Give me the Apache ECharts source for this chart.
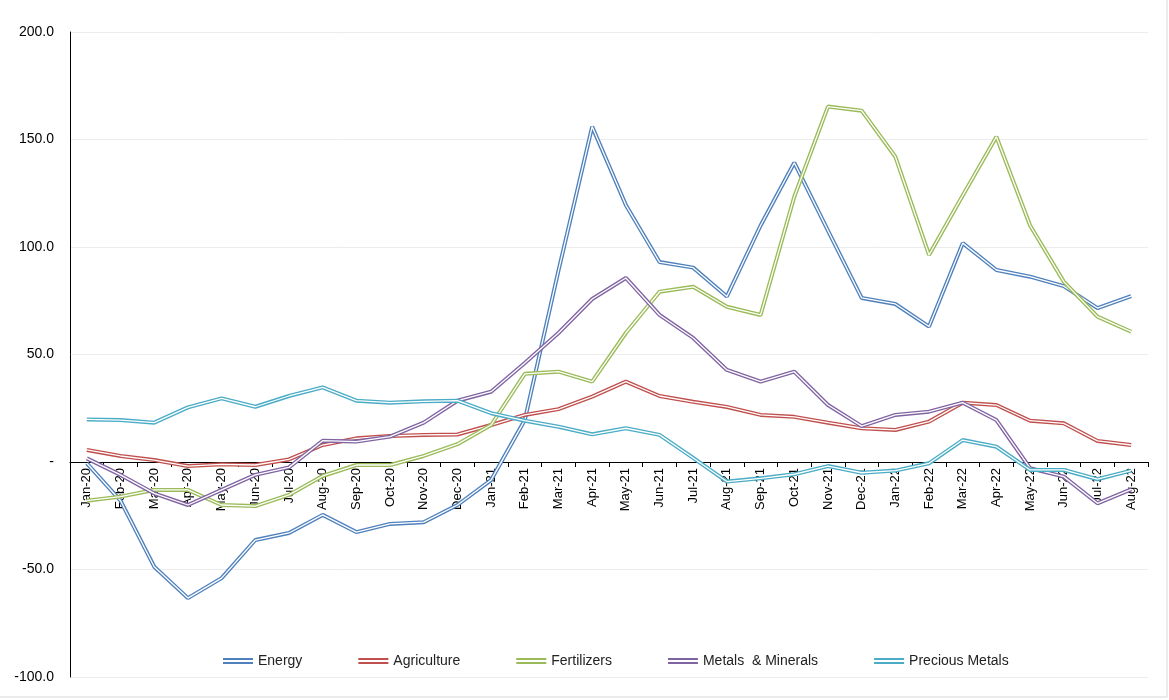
<!DOCTYPE html>
<html>
<head>
<meta charset="utf-8">
<script src="https://cdn.jsdelivr.net/npm/echarts@6/dist/echarts.min.js"></script>
<style>
  html, body { margin: 0; padding: 0; background: #fff; }
  #chart { width: 1169px; height: 700px; }
</style>
</head>
<body>
<div id="chart"></div>
<script>
// 月份
const months = [
  'Jan-20', 'Feb-20', 'Mar-20', 'Apr-20', 'May-20', 'Jun-20', 'Jul-20', 'Aug-20', 'Sep-20', 'Oct-20', 'Nov-20', 'Dec-20',
  'Jan-21', 'Feb-21', 'Mar-21', 'Apr-21', 'May-21', 'Jun-21', 'Jul-21', 'Aug-21', 'Sep-21', 'Oct-21', 'Nov-21', 'Dec-21',
  'Jan-22', 'Feb-22', 'Mar-22', 'Apr-22', 'May-22', 'Jun-22', 'Jul-22', 'Aug-22'
]

// 各系列数值
const energy = [-0.6, -18, -48.7, -63.3, -54, -36.3, -33, -24.6, -32.6, -28.8, -28, -20,
  -8.4, 19.5, 89, 156, 119.5, 93, 90.4, 77, 110, 139.2, 107.6, 76.3,
  73.5, 63, 101.8, 89.3, 86.2, 81.8, 71.6, 77.2]
const agriculture = [5.6, 2.8, 0.9, -1.9, -1.1, -1.4, 1.2, 7.9, 11, 12.1, 12.6, 12.8,
  17.2, 21.9, 24.6, 30.4, 37.4, 30.7, 28, 25.6, 21.9, 21, 18.3, 15.7,
  14.9, 18.8, 27.6, 26.5, 19.2, 18, 9.8, 7.9]
const fertilizers = [-18, -16.1, -13, -13, -20, -20.5, -15.3, -6.5, -1.4, -1.4, 2.8, 8.3,
  17.2, 41, 42, 37.4, 60, 79.2, 81.5, 72.2, 68.4, 123.4, 165.3, 163.4,
  142, 96.3, 124, 151.3, 110, 83.9, 67.6, 60.6]
const metals = [1.7, -6, -14.6, -20, -13, -6, -2.5, 9.9, 9.5, 11.8, 18.3, 28.5,
  32.7, 46, 60, 75.8, 85.6, 68.4, 57.7, 42.8, 37.4, 42, 26.5, 16.7,
  21.9, 23.4, 27.6, 19.5, -2.9, -6.8, -19.2, -12.7]
const precious = [19.8, 19.5, 18.3, 25.4, 29.6, 25.7, 30.7, 34.7, 28.5, 27.6, 28.2, 28.5,
  22.7, 19.2, 16.4, 12.9, 15.7, 12.6, 1.9, -9.1, -7.6, -5.7, -1.9, -5,
  -4, -0.6, 10.2, 7.1, -3.7, -3.7, -8, -4]

const seriesDefs = [
  { name: 'Energy', data: energy, color: '#4F81BD' },
  { name: 'Agriculture', data: agriculture, color: '#C0504D' },
  { name: 'Fertilizers', data: fertilizers, color: '#9BBB59' },
  { name: 'Metals  & Minerals', data: metals, color: '#8064A2' },
  { name: 'Precious Metals', data: precious, color: '#4BACC6' }
]

const FONT = 'Liberation Sans, Arial, sans-serif'
const Y_MIN = -100
const Y_MAX = 200
const GRID = { left: 70, right: 21, top: 32, bottom: 23 }
const PLOT_H = 700 - GRID.top - GRID.bottom

// 双线效果：彩色粗线 + 白色细线
const series = []
seriesDefs.forEach(s => {
  series.push({
    name: s.name,
    type: 'line',
    data: s.data,
    color: s.color,
    showSymbol: false,
    symbol: 'none',
    lineStyle: { width: 4, color: s.color },
    emphasis: { disabled: true }
  })
  series.push({
    name: s.name + ' inner',
    type: 'line',
    data: s.data,
    showSymbol: false,
    symbol: 'none',
    lineStyle: { width: 1.3, color: '#ffffff' },
    emphasis: { disabled: true },
    silent: true
  })
})

const chart = echarts.init(document.getElementById('chart'))
chart.setOption({
  animation: false,
  grid: { ...GRID, containLabel: false, outerBoundsMode: 'none' },
  graphic: [{
    type: 'rect',
    shape: { x: -1, y: -1, width: 1168, height: 698 },
    style: { fill: 'none', stroke: '#d9d9d9', lineWidth: 1 },
    silent: true,
    z: -1
  }],
  legend: {
    data: seriesDefs.map(s => s.name),
    left: 218,
    top: 649,
    itemWidth: 30,
    itemHeight: 6,
    itemGap: 56,
    icon: 'path://M0,0H30V2H0Z M0,4H30V6H0Z',
    textStyle: { fontFamily: FONT, fontSize: 14, color: '#222' }
  },
  xAxis: {
    type: 'category',
    data: months,
    boundaryGap: true,
    // 横轴放在 0 刻度处（标签跟随）
    offset: -PLOT_H * (0 - Y_MIN) / (Y_MAX - Y_MIN),
    axisLine: { onZero: false, lineStyle: { color: '#000', width: 1 } },
    axisTick: { show: true, interval: 0, length: 5, lineStyle: { color: '#000' } },
    axisLabel: {
      interval: 0,
      rotate: 90,
      margin: 6,
      fontFamily: FONT,
      fontSize: 13,
      color: '#000'
    },
    splitLine: { show: false }
  },
  yAxis: {
    type: 'value',
    min: Y_MIN,
    max: Y_MAX,
    interval: 50,
    axisLine: { show: true, lineStyle: { color: '#000', width: 1 } },
    axisTick: { show: false },
    axisLabel: {
      margin: 16,
      fontFamily: FONT,
      fontSize: 14,
      color: '#000',
      formatter: v => v === 0 ? '-' : v.toFixed(1)
    },
    splitLine: { lineStyle: { color: '#ececec', width: 1 } }
  },
  series: series
})
</script>
</body>
</html>
